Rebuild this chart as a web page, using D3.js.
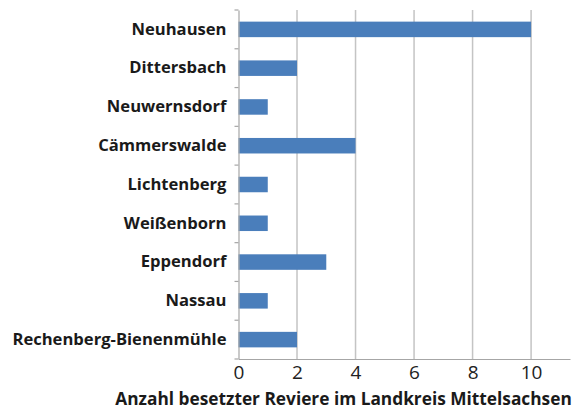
<!DOCTYPE html>
<html>
<head>
<meta charset="utf-8">
<script src="https://cdn.jsdelivr.net/npm/d3@7"></script>
<style>
  body { margin: 0; background: #fff; }
  svg { display: block; font-family: "Open Sans", sans-serif; }
  .cat { font-family: "Open Sans", sans-serif; font-weight: bold; font-size: 16.6px; fill: #1a1a1a; }
  .xt { font-family: "Open Sans", sans-serif; font-size: 19px; fill: #222; }
  .title { font-family: "Open Sans", sans-serif; font-weight: bold; font-size: 17.3px; fill: #1a1a1a; }
</style>
</head>
<body>
<div id="container"></div>
<script>
const categories = ["Neuhausen", "Dittersbach", "Neuwernsdorf", "Cämmerswalde", "Lichtenberg",
                    "Weißenborn", "Eppendorf", "Nassau", "Rechenberg-Bienenmühle"];
const values = [10, 2, 1, 4, 1, 1, 3, 1, 2];
const xTicks = [0, 2, 4, 6, 8, 10];
const xMax = 11.33;
const axisTitle = "Anzahl besetzter Reviere im Landkreis Mittelsachsen";

document.addEventListener("DOMContentLoaded", () => {
  const w = 582, h = 409;
  const left = 238.5, right = 570, top = 10, bottom = 359;

  const svg = d3.select("#container").append("svg")
                .attr("width", w).attr("height", h);

  const xScale = d3.scaleLinear().domain([0, xMax]).range([left, right]);
  const yScale = d3.scaleBand().domain(categories).range([top, bottom])
                   .paddingInner(0.6).paddingOuter(0.3);

  // gridlines
  svg.selectAll("line.grid")
     .data(xTicks.filter(t => t > 0))
     .enter().append("line")
     .attr("class", "grid")
     .attr("x1", d => xScale(d)).attr("x2", d => xScale(d))
     .attr("y1", top).attr("y2", bottom)
     .attr("stroke", "#c4c4c4").attr("stroke-width", 1.5);

  // bars
  svg.selectAll("rect.bar")
     .data(values)
     .enter().append("rect")
     .attr("class", "bar")
     .attr("x", xScale(0))
     .attr("y", (d, i) => yScale(categories[i]))
     .attr("width", d => xScale(d) - xScale(0))
     .attr("height", yScale.bandwidth())
     .attr("fill", "#4a7ebb");

  // x axis
  const xAxis = d3.axisBottom(xScale).tickValues(xTicks).tickSize(0).tickPadding(6);
  const gx = svg.append("g")
     .attr("id", "x-axis")
     .attr("transform", "translate(0," + bottom + ")")
     .call(xAxis);
  gx.select(".domain").attr("stroke", "#a6a6a6").attr("stroke-width", 1.2);
  gx.selectAll(".tick text").attr("class", "xt");
  gx.attr("font-family", null).attr("font-size", null);

  // y axis
  const yAxis = d3.axisLeft(yScale).tickSize(0).tickPadding(12);
  const gy = svg.append("g")
     .attr("id", "y-axis")
     .attr("transform", "translate(" + left + ",0)")
     .call(yAxis);
  gy.select(".domain").attr("stroke", "#a6a6a6").attr("stroke-width", 1.2);
  gy.selectAll(".tick text").attr("class", "cat");
  gy.attr("font-family", null).attr("font-size", null);

  // y-axis tick marks at band boundaries
  const step = yScale.step();
  svg.selectAll("line.ytick")
     .data(d3.range(categories.length + 1))
     .enter().append("line")
     .attr("class", "ytick")
     .attr("x1", left - 4).attr("x2", left)
     .attr("y1", i => top + i * step).attr("y2", i => top + i * step)
     .attr("stroke", "#a6a6a6").attr("stroke-width", 1.2);

  svg.append("text")
     .attr("class", "title")
     .attr("x", (115 + 572) / 2)
     .attr("y", 405)
     .attr("text-anchor", "middle")
     .text(axisTitle);
});
</script>
</body>
</html>
